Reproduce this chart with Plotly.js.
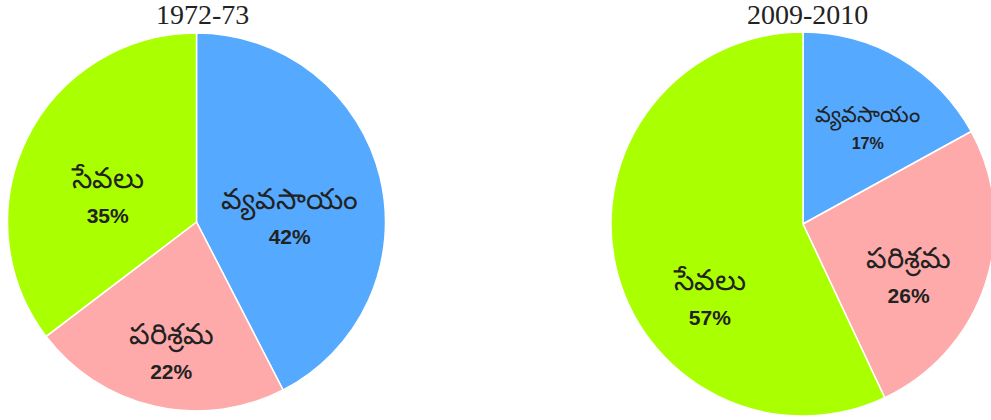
<!DOCTYPE html>
<html>
<head>
<meta charset="utf-8">
<script src="https://cdn.plot.ly/plotly-3.0.1.min.js"></script>
<style>
html,body{margin:0;padding:0;overflow:hidden;background:#fff;}
#chart{width:1000px;height:420px;}
</style>
</head>
<body>
<div id="chart"></div>
<script>
const sectors = ["వ్యవసాయం", "పరిశ్రమ", "సేవలు"];
const share1972 = [42, 22, 35];
const share2009 = [17, 26, 57];
const periods = ["1972-73", "2009-2010"];
const colors = ["#55AAFF", "#FFAAAA", "#AAFF00"];

const body = '<span style="font-size:29px;font-weight:normal">%{label}</span><br><span style="font-size:21px"><b>%{value}%</b></span>';
const tmpl = ' <br>' + body;
const tmplLow = ' <br> <br> <br>' + body;

function pieTrace(vals, domain, templates) {
  return {
    type: 'pie',
    labels: sectors,
    values: vals,
    sort: false,
    direction: 'clockwise',
    rotation: 0,
    marker: {colors: colors, line: {color: '#ffffff', width: 1.5}},
    textposition: 'inside',
    insidetextorientation: 'horizontal',
    texttemplate: templates,
    textfont: {family: 'Liberation Sans, Arial, sans-serif', size: 27, color: '#222222'},
    hoverinfo: 'label+value',
    showlegend: false,
    domain: domain
  };
}

const data = [
  pieTrace(share1972, {x: [0.0075, 0.3855], y: [1 - 411/420, 1 - 33/420]}, [tmpl, tmpl, tmpl]),
  pieTrace(share2009, {x: [0.610, 0.996], y: [1 - 416/420, 1 - 32/420]}, [tmpl, tmpl, tmplLow])
];

const layout = {
  width: 1000,
  height: 420,
  margin: {l: 0, r: 0, t: 0, b: 0},
  paper_bgcolor: '#ffffff',
  showlegend: false,
  annotations: [
    {text: periods[0], x: 202/1000, y: 1 - 15/420, xref: 'paper', yref: 'paper', showarrow: false,
     font: {family: 'Liberation Serif, Times New Roman, serif', size: 28, color: '#222222'}, xanchor: 'center', yanchor: 'middle'},
    {text: periods[1], x: 807/1000, y: 1 - 15/420, xref: 'paper', yref: 'paper', showarrow: false,
     font: {family: 'Liberation Serif, Times New Roman, serif', size: 28, color: '#222222'}, xanchor: 'center', yanchor: 'middle'}
  ]
};

Plotly.newPlot('chart', data, layout, {displayModeBar: false, staticPlot: true});
</script>
</body>
</html>
